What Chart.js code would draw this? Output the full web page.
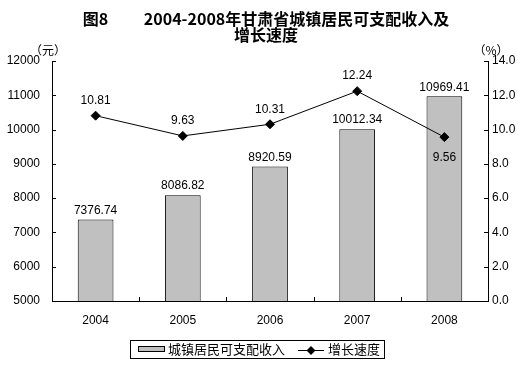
<!DOCTYPE html>
<html>
<head>
<meta charset="utf-8">
<script src="https://cdn.jsdelivr.net/npm/chart.js@4"></script>
<style>
  html, body { margin: 0; padding: 0; background: #fff; }
  #wrap { width: 532px; height: 365px; }
</style>
</head>
<body>
<div id="wrap"><canvas id="incomeChart" width="532" height="365"></canvas></div>
<script>
// === Data ===
const years = ['2004', '2005', '2006', '2007', '2008'];
const income = [7376.74, 8086.82, 8920.59, 10012.34, 10969.41];   // 元
const growth = [10.81, 9.63, 10.31, 12.24, 9.56];                 // %
const growthLabelBelow = [false, false, false, false, true];
const titleLines = ['图8　　 2004-2008年甘肃省城镇居民可支配收入及', '增长速度'];
const legendNames = ['城镇居民可支配收入', '增长速度'];
const unitLeft = '（元）';
const unitRight = '（%）';

const numFamily = '"Liberation Sans", Arial, sans-serif';
const cjkFamily = '"Noto Sans CJK SC", sans-serif';

// value labels above bars / around points
const valueLabels = {
  id: 'valueLabels',
  afterDatasetsDraw(chart) {
    const ctx = chart.ctx;
    ctx.save();
    ctx.font = '12px ' + numFamily;
    ctx.fillStyle = '#000';
    ctx.textAlign = 'center';
    chart.getDatasetMeta(0).data.forEach((bar, i) => {
      ctx.textBaseline = 'bottom';
      ctx.fillText(income[i].toFixed(2), bar.x, bar.y - 3);
    });
    chart.getDatasetMeta(1).data.forEach((pt, i) => {
      if (growthLabelBelow[i]) {
        ctx.textBaseline = 'top';
        ctx.fillText(growth[i].toFixed(2), pt.x, pt.y + 15);
      } else {
        ctx.textBaseline = 'bottom';
        ctx.fillText(growth[i].toFixed(2), pt.x, pt.y - 9);
      }
    });
    ctx.restore();
  }
};

// inward tick marks, unit captions and the boxed legend
const decorations = {
  id: 'decorations',
  afterDraw(chart) {
    const { ctx, chartArea: a, scales } = chart;
    ctx.save();
    ctx.strokeStyle = '#000';
    ctx.lineWidth = 1;
    ctx.beginPath();
    scales.yIncome.ticks.forEach(t => {
      const y = Math.round(scales.yIncome.getPixelForValue(t.value)) + 0.5;
      ctx.moveTo(a.left, y); ctx.lineTo(a.left + 4, y);
    });
    scales.yRate.ticks.forEach(t => {
      const y = Math.round(scales.yRate.getPixelForValue(t.value)) + 0.5;
      ctx.moveTo(a.right - 4, y); ctx.lineTo(a.right, y);
    });
    for (let i = 0; i <= years.length; i++) {
      const x = Math.round(scales.x.getPixelForValue(i - 0.5)) + 0.5;
      ctx.moveTo(x, a.bottom); ctx.lineTo(x, a.bottom - 4);
    }
    ctx.stroke();

    // units
    ctx.fillStyle = '#000';
    ctx.font = '12px ' + cjkFamily;
    ctx.textAlign = 'center';
    ctx.textBaseline = 'middle';
    ctx.fillText(unitLeft, a.left - 4, a.top - 11);
    ctx.fillText(unitRight, a.right + 3, a.top - 11);

    // legend
    const lx = 130.5, ly = 340.5, lw = 254, lh = 18, cy = ly + lh / 2;
    ctx.strokeRect(lx, ly, lw, lh);
    ctx.fillStyle = '#c0c0c0';
    ctx.fillRect(138.5, cy - 3, 26, 5);
    ctx.strokeRect(138.5, cy - 3, 26, 5);
    ctx.fillStyle = '#000';
    ctx.font = '13px ' + cjkFamily;
    ctx.textAlign = 'left';
    ctx.fillText(legendNames[0], 168, cy);
    ctx.beginPath();
    ctx.moveTo(298, Math.round(cy) + 0.5); ctx.lineTo(324, Math.round(cy) + 0.5);
    ctx.stroke();
    ctx.beginPath();
    const dx = 311, dy = Math.round(cy) + 0.5, r = 4.5;
    ctx.moveTo(dx, dy - r); ctx.lineTo(dx + r, dy); ctx.lineTo(dx, dy + r); ctx.lineTo(dx - r, dy);
    ctx.closePath();
    ctx.fill();
    ctx.fillText(legendNames[1], 328, cy);
    ctx.restore();
  }
};

const tickFont = { family: numFamily, size: 12 };

new Chart(document.getElementById('incomeChart'), {
  type: 'bar',
  data: {
    labels: years,
    datasets: [{
      type: 'bar',
      label: legendNames[0],
      data: income,
      yAxisID: 'yIncome',
      backgroundColor: '#c0c0c0',
      borderColor: '#000',
      borderWidth: 1,
      borderSkipped: 'bottom',
      barPercentage: 0.41,
      categoryPercentage: 1,
      order: 2
    }, {
      type: 'line',
      label: legendNames[1],
      data: growth,
      yAxisID: 'yRate',
      borderColor: '#000',
      borderWidth: 1,
      tension: 0,
      pointStyle: 'rectRot',
      pointRadius: 4.5,
      pointBackgroundColor: '#000',
      pointBorderColor: '#000',
      pointBorderWidth: 1,
      order: 1
    }]
  },
  options: {
    responsive: false,
    animation: false,
    events: [],
    layout: { padding: { left: 0, right: 0, top: 0, bottom: 34 } },
    plugins: {
      legend: { display: false },
      tooltip: { enabled: false },
      title: {
        display: true,
        text: titleLines,
        color: '#000',
        font: { family: cjkFamily, size: 16, weight: 'bold', lineHeight: 1.0 },
        padding: { top: 11, bottom: 18 }
      }
    },
    scales: {
      x: {
        grid: { display: false, drawTicks: false },
        border: { display: true, color: '#000', width: 1 },
        ticks: { color: '#000', font: tickFont, padding: 12 },
        afterFit(s) { s.height = 30; }
      },
      yIncome: {
        position: 'left',
        min: 5000,
        max: 12000,
        grid: { display: false, drawTicks: false },
        border: { display: true, color: '#000', width: 1 },
        ticks: { stepSize: 1000, color: '#000', font: tickFont, padding: 12, callback: v => String(v) },
        afterFit(s) { s.width = 52; }
      },
      yRate: {
        position: 'right',
        min: 0,
        max: 14,
        grid: { display: false, drawTicks: false },
        border: { display: true, color: '#000', width: 1 },
        ticks: { stepSize: 2, color: '#000', font: tickFont, padding: 4, callback: v => v.toFixed(1) },
        afterFit(s) { s.width = 44; }
      }
    }
  },
  plugins: [valueLabels, decorations]
});
</script>
</body>
</html>
